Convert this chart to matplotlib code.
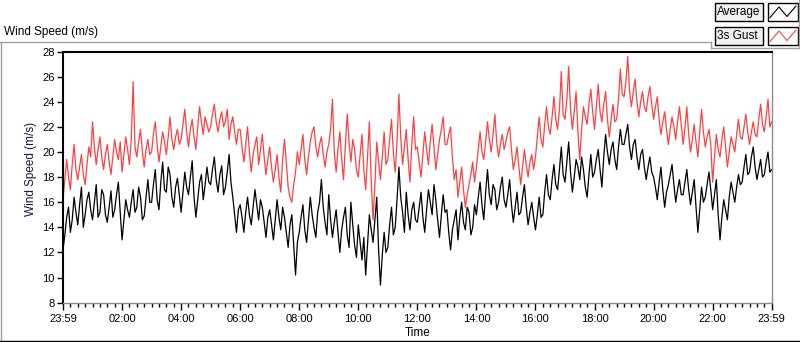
import numpy as np
import matplotlib
matplotlib.use("Agg")
import matplotlib.pyplot as plt
from matplotlib.lines import Line2D
from matplotlib.patches import Rectangle

plt.rcParams['font.family'] = ['Liberation Sans', 'DejaVu Sans']

# readings, 16 per hour (3.75 min), 23:59 -> 23:59
average = [
    12.2, 13.4, 14.8, 15.6, 13.6, 14.6, 16.4, 15.2, 14.2, 15.8, 17.2, 14.0, 15.0, 16.2, 16.8, 15.4,
    14.6, 16.0, 17.4, 14.8, 15.2, 17.0, 16.6, 15.0, 14.4, 15.6, 16.9, 14.8, 15.4, 16.6, 17.6, 15.2,
    13.0, 14.6, 16.2, 15.4, 14.8, 16.0, 17.0, 15.2, 15.6, 17.2, 16.4, 14.6, 14.9, 16.4, 17.8, 16.0,
    16.0, 17.4, 18.6, 16.2, 15.4, 17.6, 19.2, 17.0, 16.8, 18.8, 18.2, 16.4, 15.6, 17.2, 17.9, 16.6,
    15.2, 16.8, 18.4, 17.2, 16.6, 18.0, 19.3, 16.4, 14.8, 16.2, 17.6, 18.2, 16.2, 17.4, 18.8, 17.6,
    17.4, 18.6, 19.6, 17.8, 16.8, 18.2, 18.9, 16.6, 17.2, 18.4, 19.8, 17.6, 16.4, 15.0, 13.6, 15.4,
    15.8, 14.8, 13.6, 15.2, 16.4, 15.0, 14.2, 15.6, 17.0, 15.8, 14.6, 16.2, 15.6, 14.4, 13.2, 14.8,
    15.4, 14.2, 13.0, 14.6, 16.2, 14.8, 13.8, 15.6, 14.8, 13.6, 12.4, 14.2, 15.0, 12.6, 10.2, 12.8,
    13.6, 14.8, 15.8, 13.8, 12.8, 14.6, 16.4, 15.0, 14.0, 13.2, 15.2, 16.0, 17.8, 15.6, 14.4, 13.4,
    16.6, 14.6, 13.2, 14.4, 15.4, 13.6, 12.0, 13.8, 14.8, 15.6, 13.4, 12.4, 16.0, 14.2, 12.6, 11.6,
    14.2, 12.8, 11.4, 13.2, 10.2, 12.6, 15.0, 13.8, 12.8, 14.6, 16.4, 12.2, 9.4, 11.8, 13.6, 12.0,
    12.4, 14.2, 15.6, 13.4, 14.0, 16.2, 18.8, 16.4, 15.2, 13.6, 16.8, 15.0, 13.8, 15.4, 16.0, 14.6,
    14.4, 15.6, 16.8, 14.8, 13.6, 15.4, 17.0, 16.0, 15.0, 17.4, 16.2, 14.6, 13.2, 15.0, 16.6, 15.2,
    15.4, 13.6, 12.2, 13.8, 14.6, 15.4, 13.0, 14.8, 16.0, 14.4, 13.8, 15.6, 15.2, 13.4, 14.0, 15.8,
    15.0, 16.4, 17.6, 15.8, 14.6, 16.8, 18.6, 16.6, 15.8, 17.4, 17.0, 15.4, 16.0, 17.2, 18.0, 16.2,
    15.6, 16.6, 17.8, 15.8, 14.4, 15.6, 16.8, 15.0, 15.2, 16.4, 17.4, 15.6, 14.2, 15.2, 16.0, 14.8,
    13.8, 15.0, 16.4, 14.8, 15.0, 16.8, 18.2, 16.6, 16.2, 17.8, 19.0, 17.4, 17.0, 18.6, 20.4, 18.2,
    17.6, 19.2, 20.8, 18.4, 16.8, 18.0, 19.4, 18.8, 17.8, 19.6, 18.6, 17.2, 16.4, 18.2, 19.8, 18.0,
    18.4, 19.4, 20.2, 18.6, 17.2, 19.6, 21.4, 20.0, 19.0, 20.2, 20.8, 19.4, 18.6, 20.4, 21.8, 20.6,
    20.6, 21.4, 22.2, 20.4, 19.4, 20.6, 21.0, 19.6, 18.6, 19.8, 20.2, 18.8, 17.8, 18.8, 19.6, 18.4,
    18.0, 17.2, 16.2, 17.6, 18.8, 17.0, 15.6, 16.8, 17.4, 18.2, 19.0, 17.4, 16.0, 17.0, 17.8, 16.6,
    16.6, 17.6, 18.6, 17.0, 15.8, 16.8, 17.8, 15.6, 13.6, 15.4, 17.2, 16.0, 16.4, 17.4, 18.4, 17.0,
    15.4, 16.6, 17.8, 15.0, 13.0, 14.8, 16.2, 15.4, 14.6, 16.4, 17.6, 16.8, 16.0, 17.2, 18.2, 17.4,
    17.6, 18.8, 19.8, 18.2, 18.4, 19.6, 20.4, 18.8, 17.8, 18.6, 19.4, 18.0, 18.2, 19.2, 20.0, 18.4,
    18.6,
]

gust = [
    16.2, 17.8, 19.4, 18.0, 17.0, 19.0, 20.6, 18.6, 17.8, 18.8, 19.8, 18.2, 17.4, 19.0, 20.4, 19.6,
    22.4, 20.4, 19.0, 20.2, 21.2, 19.6, 18.6, 19.8, 20.6, 19.2, 18.2, 19.6, 21.0, 20.0, 19.4, 20.8,
    18.4, 19.8, 21.2, 20.2, 19.0, 21.0, 25.6, 20.4, 19.6, 20.8, 21.8, 20.0, 18.8, 20.2, 21.0, 19.8,
    20.0, 21.4, 22.4, 20.6, 19.2, 20.4, 21.6, 20.8, 19.8, 21.2, 22.8, 21.0, 20.2, 21.2, 21.8, 20.6,
    21.0, 22.2, 23.4, 21.6, 20.4, 21.8, 22.6, 21.2, 20.2, 22.0, 23.6, 22.4, 21.4, 22.8, 22.2, 21.6,
    22.0, 23.0, 23.8, 22.4, 21.6, 22.6, 23.2, 22.0, 22.4, 23.4, 21.0, 22.2, 22.8, 21.6, 20.6, 21.8,
    21.8, 20.4, 19.2, 20.6, 22.0, 20.0, 18.4, 19.8, 20.6, 21.2, 19.0, 20.2, 21.4, 19.6, 18.2, 19.4,
    20.4, 18.8, 17.6, 18.6, 19.8, 18.0, 16.8, 19.4, 21.0, 19.2, 17.2, 16.4, 16.0, 17.4, 18.4, 20.0,
    19.0, 20.2, 21.4, 19.4, 18.2, 19.6, 20.8, 21.6, 22.0, 20.4, 19.6, 20.6, 21.2, 19.8, 18.8, 20.0,
    20.6, 21.8, 24.2, 20.0, 18.4, 20.2, 21.6, 19.4, 17.8, 20.6, 23.0, 20.8, 19.2, 21.0, 20.2, 18.6,
    18.0, 19.8, 21.4, 18.6, 17.0, 19.6, 22.4, 17.8, 14.6, 17.4, 20.8, 19.2, 17.8, 19.6, 21.6, 19.0,
    19.4, 21.0, 22.6, 20.0, 18.4, 20.8, 24.6, 21.2, 19.0, 20.4, 21.8, 19.4, 17.6, 20.6, 22.8, 20.2,
    20.4, 19.2, 18.0, 19.8, 21.6, 20.2, 19.0, 20.8, 22.2, 20.4, 18.6, 19.8, 21.0, 21.8, 22.8, 20.6,
    20.6, 21.4, 22.0, 19.6, 17.8, 18.6, 16.4, 17.6, 18.8, 17.0, 15.6, 16.6, 17.4, 18.2, 19.2, 17.6,
    18.8, 20.2, 21.6, 20.0, 19.4, 20.8, 22.4, 21.0, 20.0, 21.4, 23.0, 20.8, 19.6, 20.6, 21.4, 20.2,
    20.8, 21.6, 22.0, 20.2, 18.6, 19.4, 20.4, 18.8, 17.4, 18.8, 20.2, 19.0, 18.0, 19.2, 19.8, 18.6,
    19.6, 21.2, 22.8, 21.0, 20.4, 22.2, 23.6, 22.0, 21.4, 22.8, 24.4, 22.6, 21.8, 23.4, 26.4, 23.0,
    22.6, 24.2, 26.8, 23.4, 21.8, 23.2, 24.8, 21.6, 19.4, 21.8, 23.6, 22.8, 22.2, 23.8, 25.0, 23.2,
    21.8, 23.6, 25.4, 23.2, 22.4, 23.8, 24.8, 22.6, 21.2, 22.6, 23.8, 22.4, 22.6, 24.2, 26.6, 24.6,
    24.4, 25.6, 27.6, 24.8, 23.6, 24.8, 25.8, 24.0, 22.8, 24.0, 24.8, 23.6, 23.2, 24.4, 25.2, 23.8,
    22.6, 23.6, 24.4, 22.6, 21.4, 22.4, 23.2, 21.8, 20.6, 21.8, 22.8, 22.0, 21.0, 22.4, 23.6, 22.2,
    20.6, 22.0, 23.6, 21.4, 20.0, 21.0, 22.2, 20.8, 19.6, 21.6, 23.4, 21.6, 20.4, 21.2, 21.8, 20.6,
    17.6, 19.6, 21.4, 20.2, 19.6, 21.0, 22.0, 20.4, 18.8, 20.0, 21.2, 20.6, 20.0, 21.4, 22.6, 21.2,
    21.0, 22.0, 23.0, 21.6, 20.6, 21.6, 22.4, 21.4, 21.2, 22.6, 23.8, 22.2, 21.6, 22.8, 24.2, 22.0,
    22.4,
]

tick_labels = ["23:59", "02:00", "04:00", "06:00", "08:00", "10:00", "12:00",
               "14:00", "16:00", "18:00", "20:00", "22:00", "23:59"]

hours = np.linspace(0, 24, len(average))

W, H = 800, 342
fig = plt.figure(figsize=(W / 100, H / 100), dpi=100)


def fx(px):
    return px / W


def fy(py):
    return 1 - py / H


ax = fig.add_axes([fx(63), fy(302.7), fx(771.7 - 63), (302.7 - 51.5) / H])
ax.plot(hours, gust, color="#ff4040", lw=0.9)
ax.plot(hours, average, color="black", lw=0.9)

ax.set_xlim(0, 24)
ax.set_ylim(8, 28)
ax.set_yticks(np.arange(8, 29, 2))
ax.set_xticks(np.arange(0, 25, 2))
ax.set_xticklabels(tick_labels)
ax.set_xticks(np.arange(0, 24.01, 0.25), minor=True)
ax.tick_params(axis="both", which="major", labelsize=8, direction="out",
               length=4, width=1, colors="black", pad=2)
ax.tick_params(axis="x", which="minor", length=3, width=1, direction="out")
ax.tick_params(axis="x", which="major", length=5, pad=3)

for side in ["top", "left"]:
    ax.spines[side].set_color("black")
    ax.spines[side].set_linewidth(1.5)
for side in ["bottom", "right"]:
    ax.spines[side].set_color("#8c8c8c")
    ax.spines[side].set_linewidth(1.0)

ax.set_xlabel("Time", fontsize=8.5, labelpad=2)
fig.text(fx(31), fy(168.5), "Wind Speed (m/s)", rotation=90, fontsize=8.5,
         ha="center", va="center", color="#141440")
fig.text(fx(4), fy(32), "Wind Speed (m/s)", fontsize=8.5, ha="left", va="center")

# panel frame
gray = "#a0a0a0"
fig.add_artist(Line2D([0, fx(711)], [fy(42), fy(42)], color=gray, lw=1))
fig.add_artist(Line2D([fx(1), fx(1)], [fy(42), fy(341)], color=gray, lw=1))
fig.add_artist(Line2D([0, 1], [fy(340.5), fy(340.5)], color="black", lw=1))
fig.add_artist(Line2D([fx(711), fx(711)], [fy(42), fy(48)], color=gray, lw=1))
fig.add_artist(Line2D([fx(711), fx(799)], [fy(48), fy(48)], color=gray, lw=1))
fig.add_artist(Line2D([fx(798.5), fx(798.5)], [fy(0), fy(48)], color=gray, lw=1))

# legend
for i, (name, col) in enumerate([("Average", "black"), ("3s Gust", "#ff4040")]):
    top = 3 + 24 * i
    fig.add_artist(Rectangle((fx(715), fy(top + 17.5)), fx(48), 17.5 / H,
                             facecolor="#f0f0f0", edgecolor="black", lw=1))
    fig.text(fx(717), fy(top + 9), name, fontsize=8.5, ha="left", va="center")
    fig.add_artist(Rectangle((fx(768), fy(top + 17.5)), fx(29.5), 17.5 / H,
                             facecolor="white", edgecolor="black", lw=1))
    fig.add_artist(Line2D([fx(770), fx(779), fx(787), fx(796)],
                          [fy(top + 14.5), fy(top + 4), fy(top + 13.5), fy(top + 3)],
                          color=col, lw=0.8))

fig.savefig("out.png", dpi=100)
